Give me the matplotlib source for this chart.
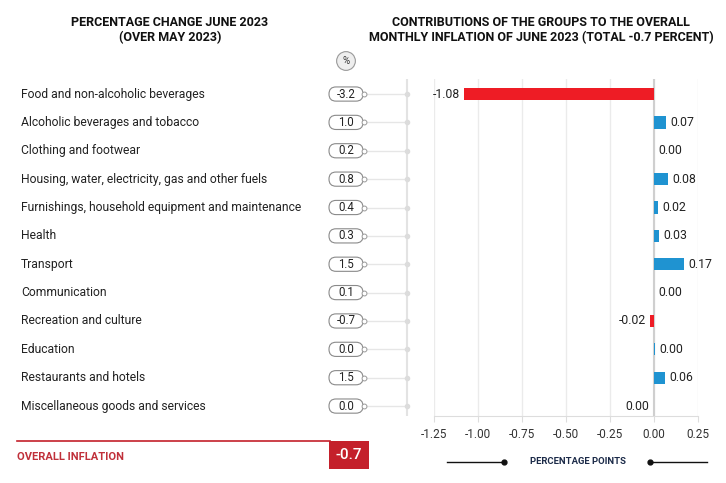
import matplotlib
matplotlib.use("Agg")
import matplotlib.pyplot as plt
from matplotlib.patches import FancyBboxPatch
from matplotlib.lines import Line2D

plt.rcParams["font.family"] = ["Roboto", "DejaVu Sans"]

# data
groups = [
    "Food and non-alcoholic beverages",
    "Alcoholic beverages and tobacco",
    "Clothing and footwear",
    "Housing, water, electricity, gas and other fuels",
    "Furnishings, household equipment and maintenance",
    "Health",
    "Transport",
    "Communication",
    "Recreation and culture",
    "Education",
    "Restaurants and hotels",
    "Miscellaneous goods and services",
]
pct_change = [-3.2, 1.0, 0.2, 0.8, 0.4, 0.3, 1.5, 0.1, -0.7, 0.0, 1.5, 0.0]
contrib = [-1.08, 0.07, 0.0, 0.08, 0.02, 0.03, 0.17, 0.0, -0.02, 0.003, 0.06, -0.001]
overall = -0.7
xticks = [-1.25, -1.00, -0.75, -0.50, -0.25, 0.00, 0.25]

W, H = 726, 483
RED = "#ee1c25"
BLUE = "#1f93d1"
DARK_RED = "#c4202b"
TXT = "#222222"


def fx(px):
    return px / W


def fy(py):
    return 1 - py / H


fig = plt.figure(figsize=(W / 100, H / 100), dpi=100)

top, bot = 79, 416
ax = fig.add_axes([fx(434), fy(bot), fx(698 - 434), (bot - top) / H])
axl = fig.add_axes([0, fy(bot), fx(420), (bot - top) / H], sharey=ax)
axl.set_zorder(0)
ax.set_zorder(1)

rows = list(range(len(groups)))
ax.set_ylim(11.35, -0.53)

# right chart: contributions
colors = [RED if v < 0 else BLUE for v in contrib]
ax.barh(rows, contrib, height=0.43, color=colors, zorder=3)
for y, v in zip(rows, contrib):
    lab = "0.00" if abs(v) < 0.005 else f"{v:.2f}"
    if v < 0:
        ax.text(v - 0.025, y, lab, ha="right", va="center", fontsize=8.8, color=TXT)
    else:
        ax.text(v + 0.025, y, lab, ha="left", va="center", fontsize=8.8, color=TXT)

ax.set_xlim(-1.25, 0.25)
ax.set_xticks(xticks)
ax.set_xticklabels([f"{t:.2f}" for t in xticks], fontsize=8.5, color="#333333")
ax.tick_params(axis="x", length=4, color="#dddddd", pad=5)
ax.tick_params(axis="y", left=False, labelleft=False)
ax.grid(axis="x", color="#ebebeb", lw=1, zorder=0)
ax.axvline(0, color="#cfcfcf", lw=1.5, zorder=2)
for s in ["top", "right", "left"]:
    ax.spines[s].set_visible(False)
ax.spines["bottom"].set_color("#dddddd")
ax.set_facecolor("none")

# left panel: group names and percentage change pills
axl.set_xlim(0, 420)
axl.axis("off")
row_px = (bot - top) / (11.35 + 0.53)
for y, name, v in zip(rows, groups, pct_change):
    axl.text(21, y, name, ha="left", va="center", fontsize=8.7, color=TXT)
    pill = FancyBboxPatch((329, y - 0.25), 34, 0.5,
                          boxstyle="round,pad=0,rounding_size=7",
                          mutation_aspect=1 / row_px,
                          fc="white", ec="#8a8a8a", lw=0.8, zorder=3)
    axl.add_patch(pill)
    axl.text(346, y, f"{v:.1f}", ha="center", va="center", fontsize=8.3, color=TXT, zorder=4)
    axl.plot([365, 407], [y, y], color="#e6e6e6", lw=1, zorder=1)
    axl.plot(364, y, "o", ms=3.5, mfc="white", mec="#9a9a9a", mew=0.7, zorder=4)
    axl.plot(407, y, "o", ms=3, color="#dcdcdc", zorder=2)
axl.axvline(407, color="#e3e3e3", lw=1.5, zorder=1)

# titles
fig.text(fx(170), fy(30), "PERCENTAGE CHANGE JUNE 2023\n(OVER MAY 2023)",
         ha="center", va="center", fontsize=9, fontweight="bold", color="#111111",
         linespacing=1.25)
fig.text(fx(541), fy(30), "CONTRIBUTIONS OF THE GROUPS TO THE OVERALL\n"
         "MONTHLY INFLATION OF JUNE 2023 (TOTAL -0.7 PERCENT)",
         ha="center", va="center", fontsize=9, fontweight="bold", color="#111111",
         linespacing=1.25)
fig.text(fx(346), fy(61), "%", ha="center", va="center", fontsize=7, color="#333333",
         bbox=dict(boxstyle="circle,pad=0.45", fc="#eeeeee", ec="#999999", lw=0.8))

# overall inflation
fig.add_artist(Line2D([fx(17), fx(330)], [fy(441), fy(441)], color=DARK_RED, lw=1.2))
fig.text(fx(17), fy(457), "OVERALL INFLATION", ha="left", va="center",
         fontsize=8, fontweight="bold", color="#c0303a")
fig.text(fx(349), fy(455), f"{overall:.1f}", ha="center", va="center", fontsize=11,
         fontweight="medium", color="white",
         bbox=dict(boxstyle="square,pad=0.45", fc=DARK_RED, ec="none"))

# axis caption with decorative lines
fig.text(fx(578), fy(462), "PERCENTAGE POINTS", ha="center", va="center",
         fontsize=6.8, fontweight="bold", color="#1b2a48")
fig.add_artist(Line2D([fx(447), fx(504)], [fy(462), fy(462)], color="#111111", lw=1))
fig.add_artist(Line2D([fx(504)], [fy(462)], marker="o", ms=3.5, color="#111111"))
fig.add_artist(Line2D([fx(650), fx(707)], [fy(462), fy(462)], color="#111111", lw=1))
fig.add_artist(Line2D([fx(650)], [fy(462)], marker="o", ms=3.5, color="#111111"))

# footnote, cut off at the bottom edge as in the original
fig.text(fx(17), fy(489), "Individual contributions may not sum to the total due to rounding",
         ha="left", va="center", fontsize=8.5, color="#f08080")

fig.savefig("out.png", dpi=100)
